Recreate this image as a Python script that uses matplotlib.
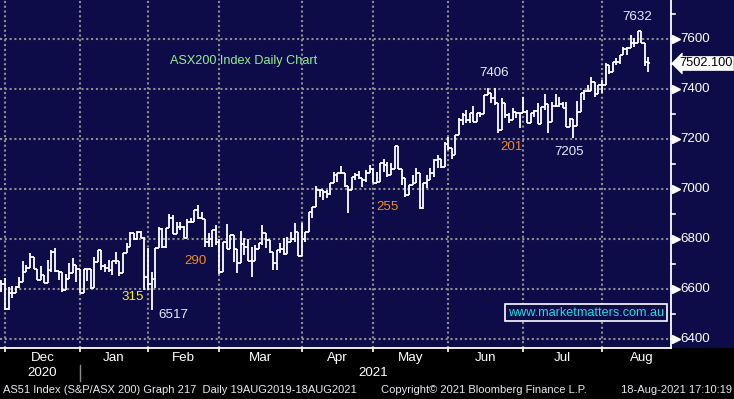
import numpy as np
import pandas as pd
import matplotlib
matplotlib.use("Agg")
import matplotlib.pyplot as plt
import matplotlib.transforms as mtransforms
from matplotlib.collections import LineCollection
from matplotlib.patches import Rectangle

# ---------------- data ----------------
opens = [6630, 6620, 6520, 6583, 6585, 6610, 6630, 6670, 6683, 6727,
         6679, 6636, 6655, 6625, 6676, 6750, 6672, 6670, 6596, 6639,
         6665, 6696, 6679, 6583, 6679, 6679, 6603, 6710, 6756, 6692,
         6686, 6676, 6712, 6712, 6665, 6743, 6769, 6823, 6799, 6829,
         6803, 6650, 6620, 6640, 6763, 6840, 6770, 6843, 6883, 6819,
         6849, 6850, 6803, 6870, 6870, 6916, 6883, 6880, 6790, 6800,
         6836, 6790, 6670, 6790, 6759, 6816, 6759, 6706, 6780, 6770,
         6714, 6714, 6759, 6783, 6823, 6796, 6750, 6703, 6756, 6760,
         6740, 6790, 6800, 6830, 6734, 6800, 6830, 6910, 6930, 6996,
         6996, 6990, 6980, 7023, 7056, 7063, 7063, 7013, 6996, 7050,
         7056, 7043, 7036, 7063, 7079, 7026, 7030, 7103, 7096, 7056,
         7079, 7172, 7079, 7043, 6976, 7016, 7023, 7063, 6923, 7023,
         7036, 7063, 7116, 7119, 7090, 7180, 7163, 7136, 7216, 7276,
         7296, 7276, 7303, 7270, 7306, 7300, 7376, 7386, 7363, 7343,
         7236, 7343, 7296, 7276, 7310, 7306, 7303, 7310, 7263, 7306,
         7312, 7259, 7330, 7339, 7270, 7332, 7332, 7339, 7325, 7250,
         7280, 7253, 7307, 7383, 7392, 7392, 7430, 7379, 7416, 7416,
         7496, 7470, 7507, 7507, 7536, 7560, 7563, 7583, 7583, 7632,
         7583, 7510]
highs = [6636, 6643, 6610, 6612, 6612, 6647, 6712, 6695, 6743, 6727,
         6679, 6692, 6655, 6716, 6756, 6763, 6672, 6670, 6660, 6705,
         6723, 6696, 6679, 6679, 6679, 6679, 6729, 6756, 6756, 6700,
         6716, 6712, 6747, 6712, 6743, 6783, 6827, 6823, 6832, 6832,
         6809, 6763, 6670, 6763, 6849, 6843, 6843, 6899, 6896, 6869,
         6869, 6853, 6880, 6883, 6916, 6936, 6909, 6880, 6823, 6836,
         6856, 6800, 6790, 6860, 6816, 6816, 6759, 6832, 6806, 6800,
         6770, 6776, 6783, 6856, 6826, 6796, 6750, 6756, 6783, 6803,
         6810, 6830, 6863, 6830, 6863, 6830, 6910, 6930, 7012, 6996,
         6996, 6996, 7023, 7069, 7063, 7092, 7063, 7013, 7050, 7063,
         7073, 7043, 7076, 7096, 7083, 7070, 7105, 7119, 7110, 7103,
         7172, 7172, 7079, 7043, 7016, 7056, 7083, 7063, 7023, 7056,
         7083, 7119, 7136, 7119, 7190, 7210, 7163, 7216, 7283, 7306,
         7316, 7303, 7332, 7306, 7310, 7376, 7403, 7386, 7406, 7343,
         7363, 7343, 7303, 7323, 7310, 7306, 7370, 7316, 7306, 7316,
         7343, 7330, 7380, 7339, 7350, 7380, 7370, 7350, 7347, 7286,
         7280, 7352, 7383, 7396, 7416, 7450, 7430, 7416, 7436, 7503,
         7496, 7507, 7526, 7536, 7570, 7570, 7616, 7606, 7632, 7632,
         7583, 7530]
lows = [6590, 6516, 6516, 6563, 6585, 6605, 6630, 6668, 6683, 6679,
        6636, 6636, 6625, 6625, 6670, 6668, 6636, 6590, 6596, 6639,
        6665, 6630, 6583, 6583, 6634, 6599, 6603, 6710, 6676, 6669,
        6669, 6656, 6700, 6652, 6665, 6743, 6769, 6796, 6796, 6803,
        6596, 6596, 6516, 6603, 6763, 6763, 6763, 6843, 6819, 6819,
        6836, 6803, 6803, 6866, 6870, 6880, 6880, 6770, 6770, 6770,
        6776, 6659, 6670, 6759, 6759, 6710, 6663, 6706, 6736, 6714,
        6647, 6714, 6759, 6776, 6763, 6743, 6676, 6676, 6743, 6736,
        6740, 6790, 6790, 6734, 6734, 6790, 6830, 6883, 6930, 6970,
        6956, 6963, 6976, 7023, 7030, 7063, 7010, 6905, 6996, 7036,
        7039, 7010, 7030, 7063, 7023, 7026, 7030, 7070, 7050, 7056,
        7079, 7079, 7016, 6967, 6976, 7016, 7023, 6920, 6920, 7003,
        7036, 7050, 7083, 7083, 7090, 7156, 7119, 7136, 7216, 7256,
        7263, 7263, 7270, 7270, 7290, 7300, 7376, 7343, 7336, 7223,
        7236, 7283, 7263, 7276, 7283, 7243, 7303, 7263, 7263, 7290,
        7259, 7259, 7316, 7225, 7270, 7330, 7330, 7323, 7250, 7250,
        7203, 7253, 7307, 7356, 7390, 7392, 7370, 7379, 7383, 7416,
        7459, 7470, 7496, 7500, 7536, 7536, 7563, 7570, 7583, 7583,
        7493, 7470]
closes = [6620, 6520, 6583, 6585, 6610, 6630, 6670, 6683, 6727, 6679,
          6636, 6655, 6625, 6676, 6750, 6672, 6670, 6596, 6639, 6665,
          6696, 6679, 6583, 6679, 6679, 6603, 6710, 6756, 6692, 6686,
          6676, 6712, 6712, 6665, 6743, 6769, 6823, 6799, 6829, 6803,
          6650, 6620, 6640, 6763, 6840, 6770, 6843, 6883, 6819, 6849,
          6850, 6803, 6870, 6870, 6916, 6883, 6880, 6790, 6800, 6836,
          6790, 6670, 6790, 6759, 6816, 6759, 6706, 6780, 6770, 6714,
          6714, 6759, 6783, 6823, 6796, 6750, 6703, 6756, 6760, 6740,
          6790, 6800, 6830, 6734, 6800, 6830, 6910, 6930, 6996, 6996,
          6990, 6980, 7023, 7056, 7063, 7063, 7013, 6996, 7050, 7056,
          7043, 7036, 7063, 7079, 7026, 7030, 7103, 7096, 7056, 7079,
          7172, 7079, 7043, 6976, 7016, 7023, 7063, 6923, 7023, 7036,
          7063, 7116, 7119, 7090, 7180, 7163, 7136, 7216, 7276, 7296,
          7276, 7303, 7270, 7306, 7300, 7376, 7386, 7363, 7343, 7236,
          7343, 7296, 7276, 7310, 7306, 7303, 7310, 7263, 7306, 7312,
          7259, 7330, 7339, 7270, 7332, 7332, 7339, 7325, 7250, 7280,
          7253, 7307, 7383, 7392, 7392, 7430, 7379, 7416, 7416, 7496,
          7470, 7507, 7507, 7536, 7560, 7563, 7583, 7583, 7632, 7583,
          7510, 7502.1]

month_labels = ["Dec", "Jan", "Feb", "Mar", "Apr", "May", "Jun", "Jul", "Aug"]
year_labels = ["2020", "2021"]
asx_holidays = ["2020-12-25", "2020-12-28", "2021-01-01", "2021-01-26",
                "2021-04-02", "2021-04-05", "2021-06-14"]
yticks = [6400, 6600, 6800, 7000, 7200, 7400, 7600]
last_price = 7502.100

annotations = [  # (text, bar index, value, colour)
    ("7632", 177.8, 7688, "#e6ecff"),
    ("7406", 137.8, 7464, "#e6ecff"),
    ("7205", 158.8, 7148, "#e6ecff"),
    ("201", 142.8, 7168, "#f08a24"),
    ("255", 107.9, 6928, "#f08a24"),
    ("290", 54.2, 6712, "#f08a24"),
    ("315", 36.8, 6568, "#f5f500"),
    ("6517", 48.0, 6496, "#e6ecff"),
]

# trading calendar -> first bar of each month
cal = pd.bdate_range("2020-11-30", "2021-09-30", freq="C", holidays=asx_holidays)
cal_s = pd.Series(cal)
first_idx = cal_s.groupby([cal_s.dt.year, cal_s.dt.month]).apply(lambda s: s.index[0]).values
month_starts = list(first_idx[1:11])  # Dec .. Sep

# ---------------- figure ----------------
NAVY = "#0e0b49"
W, H = 734, 399
plt.rcParams["font.family"] = ["Liberation Sans", "DejaVu Sans"]
fig = plt.figure(figsize=(W / 100, H / 100), dpi=100, facecolor="black")

ax_bottom_px = 348
ax_right_px = 671
fig.patches.append(Rectangle((ax_right_px / W, (H - ax_bottom_px) / H),
                             1 - ax_right_px / W, ax_bottom_px / H,
                             transform=fig.transFigure, facecolor=NAVY,
                             edgecolor="none", zorder=-10))
ax = fig.add_axes([0, (H - ax_bottom_px) / H, ax_right_px / W, ax_bottom_px / H])
ax.set_facecolor(NAVY)
ax.set_zorder(1)

n = len(closes)
x = np.arange(n)
ax.set_xlim(-0.39, 187.3)
ax.set_ylim(6364, 7756)

# grid
for v in yticks:
    ax.axhline(v, color="#8f8f8f", lw=1.5, ls=(0, (1, 1.3)), zorder=1)
for m in month_starts[:9]:
    ax.axvline(m, color="#8f8f8f", lw=1.5, ls=(0, (1, 1.3)), zorder=1)

# OHLC bars
segs = []
for i in range(n):
    segs.append([(x[i], lows[i]), (x[i], highs[i])])
    segs.append([(x[i] - 0.5, opens[i]), (x[i], opens[i])])
    segs.append([(x[i], closes[i]), (x[i] + 0.5, closes[i])])
ax.add_collection(LineCollection(segs, colors="white", linewidths=1.3, zorder=3,
                                 capstyle="butt"))

# spines
for s in ["top", "left"]:
    ax.spines[s].set_visible(False)
for s in ["bottom", "right"]:
    ax.spines[s].set_color("white")
    ax.spines[s].set_linewidth(1.3)
ax.set_yticks([])
ax.set_xticks(month_starts[:9])
ax.tick_params(axis="x", direction="out", length=3, width=1.2, color="white",
               labelbottom=False)

FS = 9.6
# right axis ticks / labels
trans_y = mtransforms.blended_transform_factory(ax.transAxes, ax.transData)
px = 1.0 / ax_right_px
for v in yticks:
    ax.plot([1 + 5 * px], [v], marker=">", ms=5.5, color="white", mec="white",
            transform=trans_y, clip_on=False, zorder=5)
    ax.plot([1, 1 + 4 * px], [v, v], color="white", lw=1.2,
            transform=trans_y, clip_on=False)
    ax.text(1 + 9 * px, v, f"{v}", color="white", fontsize=FS, va="center",
            ha="left", transform=trans_y, clip_on=False)
for v in range(6500, 7800, 200):
    ax.plot([1, 1 + 3.5 * px], [v, v], color="white", lw=1.2,
            transform=trans_y, clip_on=False)

# last price tag
ax.text(1 + 8 * px, last_price, f"{last_price:.3f}", color="black", fontsize=9.2,
        va="center", ha="left", transform=trans_y, clip_on=False, zorder=6,
        bbox=dict(boxstyle="larrow,pad=0.08", fc="white", ec="white", lw=0.5))

# month labels
trans_x = mtransforms.blended_transform_factory(ax.transData, ax.transAxes)
for k, lab in enumerate(month_labels):
    mid = (month_starts[k] + month_starts[k + 1]) / 2
    ax.text(mid, -10 / ax_bottom_px, lab, color="white", fontsize=FS,
            ha="center", va="center", transform=trans_x, clip_on=False)
ax.text((month_starts[0] + month_starts[1]) / 2, -25 / ax_bottom_px, year_labels[0],
        color="white", fontsize=FS, ha="center", va="center",
        transform=trans_x, clip_on=False)
ax.text(month_starts[5], -25 / ax_bottom_px, year_labels[1], color="white",
        fontsize=FS, ha="center", va="center", transform=trans_x, clip_on=False)
ax.plot([month_starts[1], month_starts[1]], [-17 / ax_bottom_px, -33 / ax_bottom_px],
        color="#8a8a8a", lw=1, transform=trans_x, clip_on=False)

# annotations
for txt, xi, yv, col in annotations:
    ax.text(xi, yv, txt, color=col, fontsize=FS, ha="center", va="center", zorder=6)

ax.text(47.2, 7512, "ASX200 Index Daily Chart", color="#8ef08e", fontsize=9.1,
        ha="left", va="center", zorder=6)

ax.text(163.5, 6506, "www.marketmatters.com.au", color="#16e0e6", fontsize=9.1,
        ha="center", va="center", zorder=6,
        bbox=dict(boxstyle="square,pad=0.22", fc=NAVY, ec="white", lw=1.2))

# footer
fy = 1 - 390 / H
fig.text(3 / W, fy, "AS51 Index (S&P/ASX 200) Graph 217  Daily 19AUG2019-18AUG2021",
         color="#e8e8f0", fontsize=8.0, ha="left", va="center")
fig.text(381 / W, fy, "Copyright\u00a9 2021 Bloomberg Finance L.P.", color="#e8e8f0",
         fontsize=8.0, ha="left", va="center")
fig.text(732 / W, fy, "18-Aug-2021 17:10:19", color="#e8e8f0", fontsize=8.0,
         ha="right", va="center")

fig.savefig("out.png", dpi=100, facecolor="black")
